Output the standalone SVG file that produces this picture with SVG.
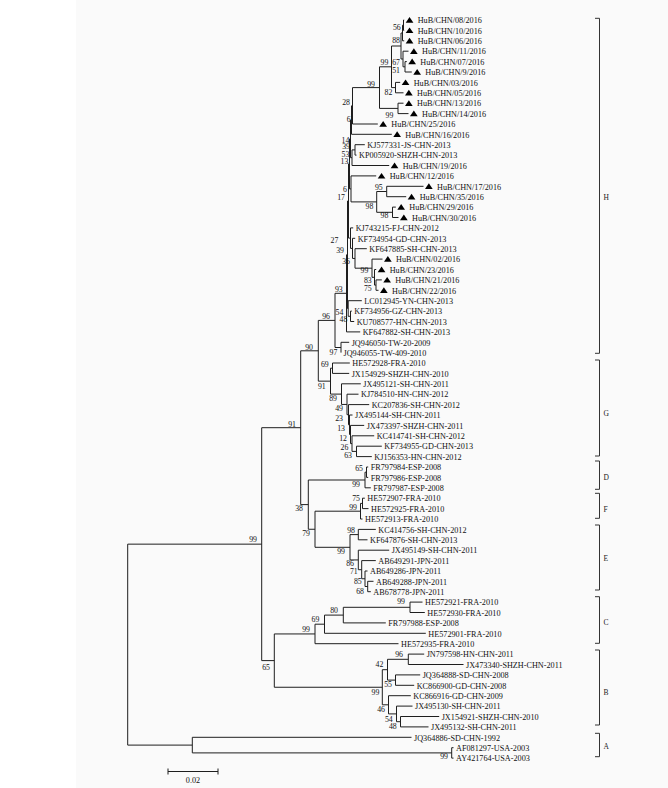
<svg xmlns="http://www.w3.org/2000/svg" width="668" height="788" viewBox="0 0 668 788">
<style>
.lf{font-family:"Liberation Serif","Times New Roman",serif;font-size:8.2px;fill:#111}
.bs{font-family:"Liberation Serif","Times New Roman",serif;font-size:7.8px;fill:#111;text-anchor:end}
.cl{font-family:"Liberation Serif","Times New Roman",serif;font-size:7.5px;fill:#222}
.br{fill:none;stroke:#1e1e1e;stroke-width:1}
.bk{fill:none;stroke:#333;stroke-width:1}
</style>
<defs><path id="tri" d="M0,2.7L7.7,2.7L3.85,-3Z" fill="#000"/></defs>
<rect x="0" y="0" width="668" height="788" fill="#fff"/>
<rect x="76" y="0" width="592" height="788" fill="#fafafa"/>
<g id="connectors" class="br">
<path d="M127.7,544.15V745.1M127.7,544.15H261.7M127.7,745.1H192.3"/>
<path d="M192.3,737.3V752.9M192.3,737.3H411.5M192.3,752.9H451.7"/>
<path d="M451.7,747.7V758.1M451.7,747.7H453.5M451.7,758.1H453.5"/>
<path d="M261.7,427.7V660.6M261.7,427.7H300.7M261.7,660.6H274.3"/>
<path d="M274.3,633.95V687.25M274.3,633.95H315M274.3,687.25H382.3"/>
<path d="M315,624.2V643.7H398.5M315,624.2H324.5"/>
<path d="M324.5,615.1V633.3H425.8M324.5,615.1H343.3"/>
<path d="M343.3,607.3V622.9H385.8M343.3,607.3H410"/>
<path d="M410,602.1V612.5H424.8M410,602.1H422.5"/>
<path d="M382.3,669.7V704.8M382.3,669.7H387.5M382.3,704.8H388.5"/>
<path d="M387.5,659.3V680.1M387.5,659.3H408.3M387.5,680.1H395.5"/>
<path d="M408.3,654.1V664.5H463.5M408.3,654.1H424.2"/>
<path d="M395.5,674.9V685.3H414.2M395.5,674.9H420.2"/>
<path d="M388.5,695.7V713.9H396.5M388.5,695.7H410.8"/>
<path d="M396.5,706.1V721.7H400.5M396.5,706.1H412.5"/>
<path d="M400.5,716.5V726.9H428.5M400.5,716.5H439.2"/>
<path d="M300.7,350.8V504.6H308.3M300.7,350.8H318.3"/>
<path d="M308.3,480V529.25H315M308.3,480H365"/>
<path d="M365,472.2V487.8H370.8M365,472.2H366.5"/>
<path d="M366.5,467V477.4H368.2M366.5,467H368.2"/>
<path d="M315,511.2V547.3H350M315,511.2H360.5"/>
<path d="M360.5,503.4V519H362.5M360.5,503.4H362.5"/>
<path d="M362.5,498.2V508.6H368.5M362.5,498.2H364.8"/>
<path d="M350,534.6V559.95H358.3M350,534.6H358.3"/>
<path d="M358.3,529.4V539.8H367.5M358.3,529.4H375.8"/>
<path d="M358.3,550.2V569.7H361.7M358.3,550.2H389.2"/>
<path d="M361.7,560.6V578.75H365M361.7,560.6H375.8"/>
<path d="M365,571V586.5H367.7M365,571H367.5"/>
<path d="M367.7,581.3V591.7H370.8M367.7,581.3H373.5"/>
<path d="M318.3,320.4V381.15H330.5M318.3,320.4H335"/>
<path d="M330.5,368.2V394.1H341.5M330.5,368.2H332.5"/>
<path d="M332.5,363V373.4H349.2M332.5,363H349.8"/>
<path d="M341.5,383.8V404.45H347M341.5,383.8H360.8"/>
<path d="M347,394.2V414.7H348.5M347,394.2H358.5"/>
<path d="M348.5,404.6V424.75H349.5M348.5,404.6H369.2"/>
<path d="M349.5,415V434.5H350.5M349.5,415H352.5"/>
<path d="M350.5,425.4V443.6H352M350.5,425.4H364.2"/>
<path d="M352,435.8V451.4H356.5M352,435.8H374.2"/>
<path d="M356.5,446.2V456.6H371.8M356.5,446.2H381.8"/>
<path d="M335,293.3V347.5H341M335,293.3H346.5"/>
<path d="M341,342.3V352.6M341,342.3H349.2"/>
<path d="M346.5,254.75V331.9H360.2M346.5,254.75H347.5"/>
<path d="M347.5,201V308.5H348.2M347.5,201H348.5"/>
<path d="M348.2,300.7V316.3H350.5M348.2,300.7H361.8"/>
<path d="M350.5,311.1V321.5H354.2M350.5,311.1H351.8"/>
<path d="M348.5,163.9V238.1H350.5M348.5,163.9H349.5"/>
<path d="M350.5,227.9V248.4H352.5M350.5,227.9H353.2"/>
<path d="M352.5,238.3V258.45H355M352.5,238.3H355.2"/>
<path d="M355,248.7V268.2H372M355,248.7H366.8"/>
<path d="M372,259.1V277.3H374.5M372,259.1H382.5"/>
<path d="M374.5,269.5V285.1H376M374.5,269.5H376.2"/>
<path d="M376,279.9V290.3H378.5M376,279.9H381.8"/>
<path d="M349.5,138.9V188.9H351M349.5,138.9H350.5"/>
<path d="M351,175.9V201.9H376.7M351,175.9H376.2"/>
<path d="M376.7,191.5V212.3H392.5M376.7,191.5H386.7"/>
<path d="M386.7,186.3V196.7H406.2M386.7,186.3H423.5"/>
<path d="M392.5,207.1V217.5H398.5M392.5,207.1H395.8"/>
<path d="M350.5,120.05V157.7H352M350.5,120.05H351.5"/>
<path d="M352,149.9V165.5H389.2M352,149.9H355"/>
<path d="M355,144.7V155.1H356.5M355,144.7H364.8"/>
<path d="M351.5,105.8V134.3H391.8M351.5,105.8H352.5"/>
<path d="M352.5,87.6V124H377.8M352.5,87.6H379.5"/>
<path d="M379.5,66.8V108.4H398M379.5,66.8H391.5"/>
<path d="M398,103.2V113.6H408.5M398,103.2H403.5"/>
<path d="M391.5,46V87.6H395.5M391.5,46H401"/>
<path d="M395.5,82.4V92.8H403.5M395.5,82.4H400.2"/>
<path d="M401,33V59H403M401,33H402.5"/>
<path d="M402.5,25.2V40.8H404.2M402.5,25.2H403.5"/>
<path d="M403.5,20V30.4H404.2M403.5,20H404.2"/>
<path d="M403,51.2V66.8H405M403,51.2H408.5"/>
<path d="M405,61.6V72H411.8M405,61.6H406.8"/>
</g>
<g id="support-values" class="bs">
<text x="400.7" y="30">56</text><text x="400" y="43">88</text><text x="388.3" y="65">99</text><text x="400" y="65">67</text><text x="400" y="73.3">51</text><text x="375" y="86.7">99</text><text x="392.3" y="95">82</text><text x="350" y="105">28</text><text x="393.3" y="118.3">99</text><text x="350.7" y="122.3">6</text><text x="349.3" y="142.8">14</text><text x="350" y="149.3">39</text><text x="349.3" y="156.7">53</text><text x="348.3" y="164.3">13</text><text x="382.7" y="190">95</text><text x="347" y="192">6</text><text x="345" y="200">17</text><text x="373.3" y="209">98</text><text x="388.3" y="217.7">98</text><text x="338.3" y="243.3">27</text><text x="344" y="253.3">39</text><text x="350" y="264.3">36</text><text x="368.3" y="272.7">99</text><text x="371.7" y="283.3">83</text><text x="371.7" y="291">75</text><text x="342.7" y="291.7">93</text><text x="343.3" y="315">54</text><text x="347.3" y="322.3">48</text><text x="330" y="319">96</text><text x="337.3" y="355">97</text><text x="313" y="350">90</text><text x="328.7" y="366.7">69</text><text x="325.7" y="389">91</text><text x="337" y="401">89</text><text x="343" y="411">49</text><text x="343" y="421">23</text><text x="345" y="431">13</text><text x="347" y="441">12</text><text x="348.3" y="449.5">26</text><text x="352" y="458">63</text><text x="363" y="471">65</text><text x="360" y="487">99</text><text x="360" y="501">75</text><text x="303" y="511">38</text><text x="357" y="510">99</text><text x="355" y="533">98</text><text x="310" y="536">79</text><text x="296" y="427">91</text><text x="257" y="542">99</text><text x="345" y="554">99</text><text x="354" y="565.8">86</text><text x="357.7" y="573.5">71</text><text x="361.7" y="584">85</text><text x="364" y="594">68</text><text x="405" y="604">99</text><text x="338" y="613">80</text><text x="319.3" y="622.3">69</text><text x="310" y="632.3">99</text><text x="403" y="657">96</text><text x="383.3" y="667">42</text><text x="270" y="670">65</text><text x="392" y="687">55</text><text x="379.3" y="695">99</text><text x="385" y="711.7">46</text><text x="392.7" y="721.8">54</text><text x="396.7" y="729.3">48</text><text x="448" y="759">99</text>
</g>
<g id="leaves" class="lf">
<g id="n1"><use href="#tri" x="405.7" y="20"/><text x="417.7" y="23.2">HuB/CHN/08/2016</text></g>
<g id="n2"><use href="#tri" x="405.7" y="30.4"/><text x="417.7" y="33.6">HuB/CHN/10/2016</text></g>
<g id="n3"><use href="#tri" x="405.7" y="40.8"/><text x="417.7" y="44">HuB/CHN/06/2016</text></g>
<g id="n4"><use href="#tri" x="410" y="51.2"/><text x="422" y="54.4">HuB/CHN/11/2016</text></g>
<g id="n5"><use href="#tri" x="408.3" y="61.6"/><text x="420.3" y="64.8">HuB/CHN/07/2016</text></g>
<g id="n6"><use href="#tri" x="413.3" y="72"/><text x="425.3" y="75.2">HuB/CHN/9/2016</text></g>
<g id="n7"><use href="#tri" x="401.7" y="82.4"/><text x="413.7" y="85.6">HuB/CHN/03/2016</text></g>
<g id="n8"><use href="#tri" x="405" y="92.8"/><text x="417" y="96">HuB/CHN/05/2016</text></g>
<g id="n9"><use href="#tri" x="405" y="103.2"/><text x="417" y="106.4">HuB/CHN/13/2016</text></g>
<g id="n10"><use href="#tri" x="410" y="113.6"/><text x="422" y="116.8">HuB/CHN/14/2016</text></g>
<g id="n11"><use href="#tri" x="379.3" y="124"/><text x="391.3" y="127.2">HuB/CHN/25/2016</text></g>
<g id="n12"><use href="#tri" x="393.3" y="134.3"/><text x="405.3" y="137.5">HuB/CHN/16/2016</text></g>
<g id="n13"><text x="367.3" y="147.9">KJ577331-JS-CHN-2013</text></g>
<g id="n14"><text x="359" y="158.3">KP005920-SHZH-CHN-2013</text></g>
<g id="n15"><use href="#tri" x="390.7" y="165.5"/><text x="402.7" y="168.7">HuB/CHN/19/2016</text></g>
<g id="n16"><use href="#tri" x="377.7" y="175.9"/><text x="389.7" y="179.1">HuB/CHN/12/2016</text></g>
<g id="n17"><use href="#tri" x="425" y="186.3"/><text x="437" y="189.5">HuB/CHN/17/2016</text></g>
<g id="n18"><use href="#tri" x="407.7" y="196.7"/><text x="419.7" y="199.9">HuB/CHN/35/2016</text></g>
<g id="n19"><use href="#tri" x="397.3" y="207.1"/><text x="409.3" y="210.3">HuB/CHN/29/2016</text></g>
<g id="n20"><use href="#tri" x="400" y="217.5"/><text x="412" y="220.7">HuB/CHN/30/2016</text></g>
<g id="n21"><text x="355.7" y="231.1">KJ743215-FJ-CHN-2012</text></g>
<g id="n22"><text x="357.7" y="241.5">KF734954-GD-CHN-2013</text></g>
<g id="n23"><text x="369.3" y="251.9">KF647885-SH-CHN-2013</text></g>
<g id="n24"><use href="#tri" x="384" y="259.1"/><text x="396" y="262.3">HuB/CHN/02/2016</text></g>
<g id="n25"><use href="#tri" x="377.7" y="269.5"/><text x="389.7" y="272.7">HuB/CHN/23/2016</text></g>
<g id="n26"><use href="#tri" x="383.3" y="279.9"/><text x="395.3" y="283.1">HuB/CHN/21/2016</text></g>
<g id="n27"><use href="#tri" x="380" y="290.3"/><text x="392" y="293.5">HuB/CHN/22/2016</text></g>
<g id="n28"><text x="364.3" y="303.9">LC012945-YN-CHN-2013</text></g>
<g id="n29"><text x="354.3" y="314.3">KF734956-GZ-CHN-2013</text></g>
<g id="n30"><text x="356.7" y="324.7">KU708577-HN-CHN-2013</text></g>
<g id="n31"><text x="362.7" y="335.1">KF647882-SH-CHN-2013</text></g>
<g id="n32"><text x="351.7" y="345.5">JQ946050-TW-20-2009</text></g>
<g id="n33"><text x="343.5" y="355.8">JQ946055-TW-409-2010</text></g>
<g id="n34"><text x="352.3" y="366.2">HE572928-FRA-2010</text></g>
<g id="n35"><text x="351.7" y="376.6">JX154929-SHZH-CHN-2010</text></g>
<g id="n36"><text x="363.3" y="387">JX495121-SH-CHN-2011</text></g>
<g id="n37"><text x="361" y="397.4">KJ784510-HN-CHN-2012</text></g>
<g id="n38"><text x="371.7" y="407.8">KC207836-SH-CHN-2012</text></g>
<g id="n39"><text x="355" y="418.2">JX495144-SH-CHN-2011</text></g>
<g id="n40"><text x="366.7" y="428.6">JX473397-SHZH-CHN-2011</text></g>
<g id="n41"><text x="376.7" y="439">KC414741-SH-CHN-2012</text></g>
<g id="n42"><text x="384.3" y="449.4">KF734955-GD-CHN-2013</text></g>
<g id="n43"><text x="374.3" y="459.8">KJ156353-HN-CHN-2012</text></g>
<g id="n44"><text x="370.7" y="470.2">FR797984-ESP-2008</text></g>
<g id="n45"><text x="370.7" y="480.6">FR797986-ESP-2008</text></g>
<g id="n46"><text x="373.3" y="491">FR797987-ESP-2008</text></g>
<g id="n47"><text x="367.3" y="501.4">HE572907-FRA-2010</text></g>
<g id="n48"><text x="371" y="511.8">HE572925-FRA-2010</text></g>
<g id="n49"><text x="365" y="522.2">HE572913-FRA-2010</text></g>
<g id="n50"><text x="378.3" y="532.6">KC414756-SH-CHN-2012</text></g>
<g id="n51"><text x="370" y="543">KF647876-SH-CHN-2013</text></g>
<g id="n52"><text x="391.7" y="553.4">JX495149-SH-CHN-2011</text></g>
<g id="n53"><text x="378.3" y="563.8">AB649291-JPN-2011</text></g>
<g id="n54"><text x="370" y="574.2">AB649286-JPN-2011</text></g>
<g id="n55"><text x="376" y="584.5">AB649288-JPN-2011</text></g>
<g id="n56"><text x="373.3" y="594.9">AB678778-JPN-2011</text></g>
<g id="n57"><text x="425" y="605.3">HE572921-FRA-2010</text></g>
<g id="n58"><text x="427.3" y="615.7">HE572930-FRA-2010</text></g>
<g id="n59"><text x="388.3" y="626.1">FR797988-ESP-2008</text></g>
<g id="n60"><text x="428.3" y="636.5">HE572901-FRA-2010</text></g>
<g id="n61"><text x="401" y="646.9">HE572935-FRA-2010</text></g>
<g id="n62"><text x="426.7" y="657.3">JN797598-HN-CHN-2011</text></g>
<g id="n63"><text x="466" y="667.7">JX473340-SHZH-CHN-2011</text></g>
<g id="n64"><text x="422.7" y="678.1">JQ364888-SD-CHN-2008</text></g>
<g id="n65"><text x="416.7" y="688.5">KC866900-GD-CHN-2008</text></g>
<g id="n66"><text x="413.3" y="698.9">KC866916-GD-CHN-2009</text></g>
<g id="n67"><text x="415" y="709.3">JX495130-SH-CHN-2011</text></g>
<g id="n68"><text x="441.7" y="719.7">JX154921-SHZH-CHN-2010</text></g>
<g id="n69"><text x="431" y="730.1">JX495132-SH-CHN-2011</text></g>
<g id="n70"><text x="414" y="740.5">JQ364886-SD-CHN-1992</text></g>
<g id="n71"><text x="456" y="750.9">AF081297-USA-2003</text></g>
<g id="n72"><text x="456" y="761.3">AY421764-USA-2003</text></g>
</g>
<g id="clades">
<path class="bk" d="M595,18.3H599.5V353.3H595M595,360H599.5V456H595M595,461H599.5V489.3H595M595,493.3H599.5V518.3H595M595,525H599.5V590H595M595,596.7H599.5V643.3H595M595,650H599.5V725H595M595,733.3H599.5V756.7H595"/>
<text class="cl" x="603.5" y="200">H</text>
<text class="cl" x="603.5" y="415.7">G</text>
<text class="cl" x="603.5" y="480">D</text>
<text class="cl" x="603.5" y="511.7">F</text>
<text class="cl" x="603.5" y="561">E</text>
<text class="cl" x="603.5" y="625">C</text>
<text class="cl" x="603.5" y="695">B</text>
<text class="cl" x="603.5" y="749.3">A</text>
</g>
<g id="scale-bar">
<path class="br" d="M168,771.5H218M168,768.5V774.5M218,768.5V774.5"/>
<text class="lf" x="193" y="783" text-anchor="middle">0.02</text>
</g>
</svg>
